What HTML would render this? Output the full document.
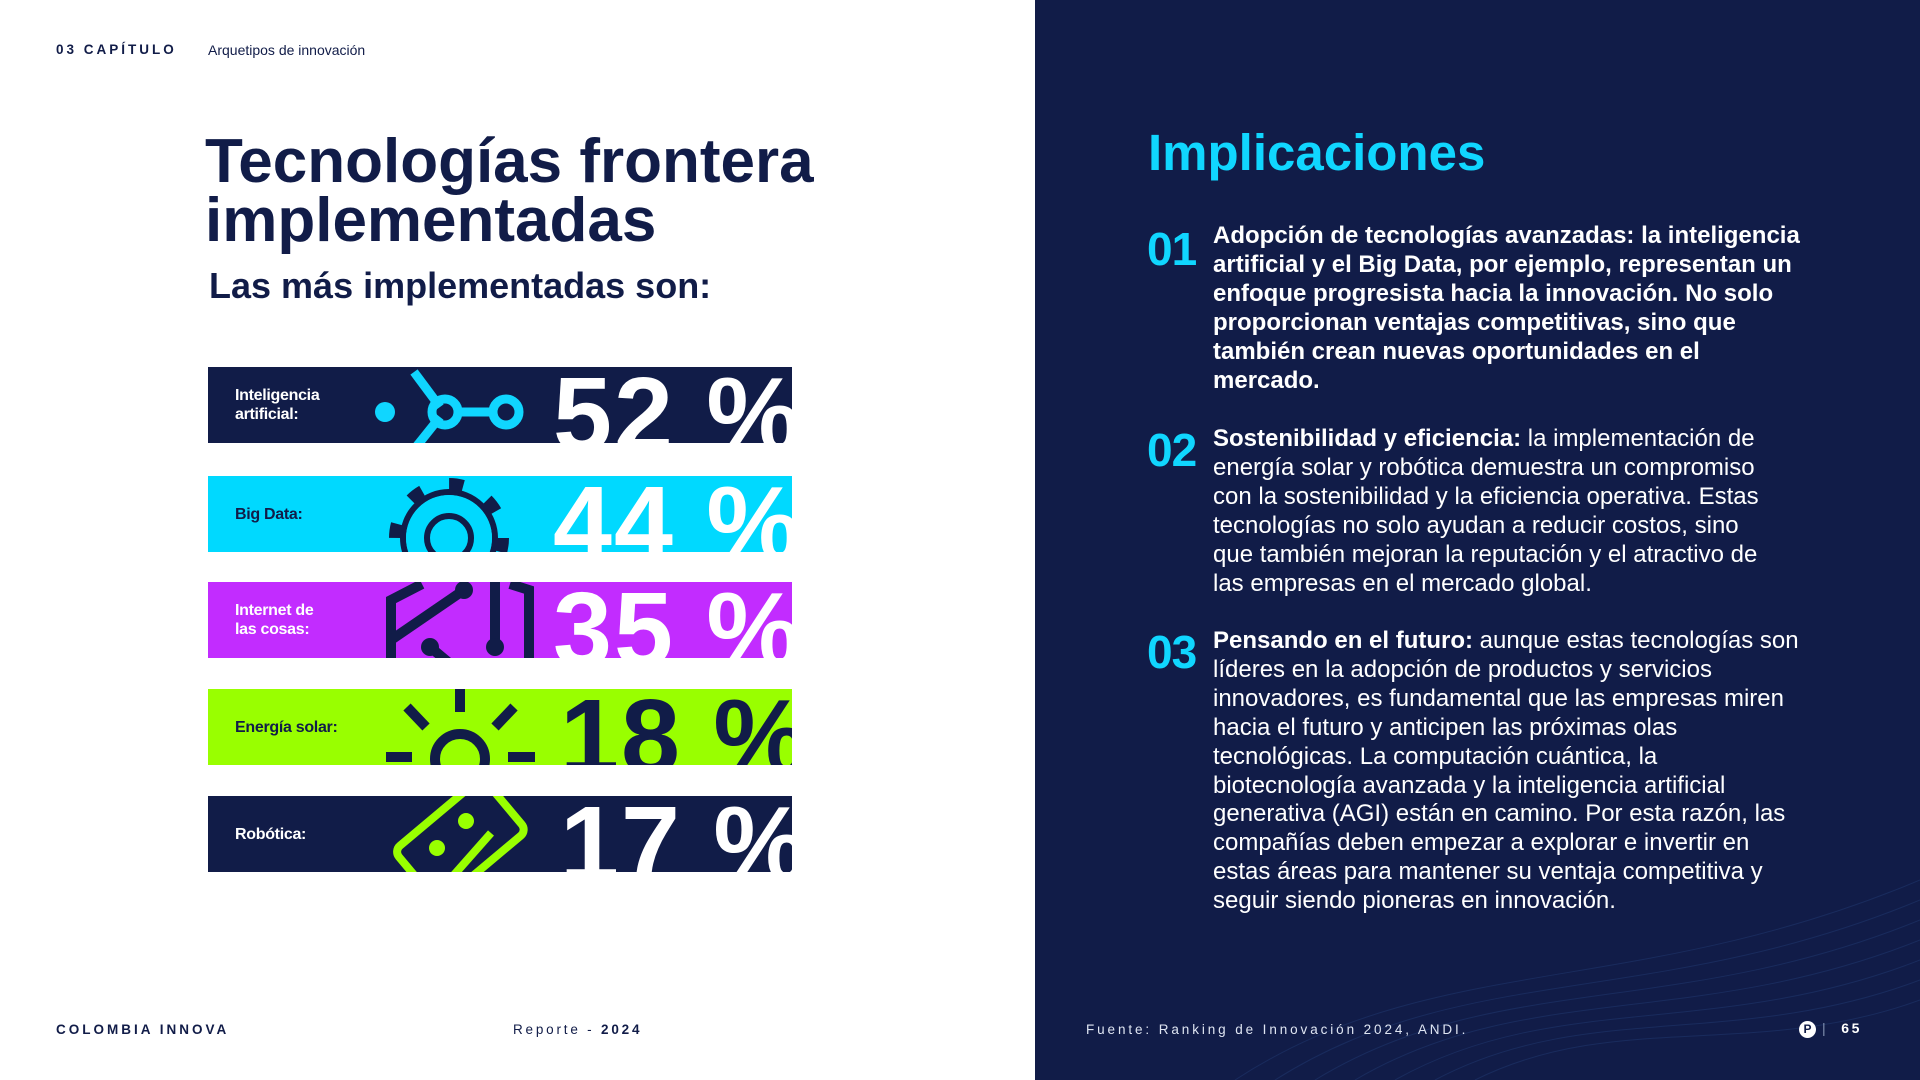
<!DOCTYPE html>
<html><head><meta charset="utf-8">
<style>
*{margin:0;padding:0;box-sizing:border-box}
body{width:1920px;height:1080px;position:relative;overflow:hidden;background:#fff;font-family:"Liberation Sans",sans-serif;color:#111c48}
.abs{position:absolute}
#right{position:absolute;left:1035px;top:0;width:885px;height:1080px;background:#111c48}
.row{position:absolute;left:208px;width:584px;height:76px;overflow:hidden}
.row .lab{position:absolute;left:27px;top:0;height:76px;display:flex;align-items:center;font-weight:bold;font-size:16px;line-height:19px;letter-spacing:-0.3px}
.row svg{position:absolute;left:0;top:0}
.row .num{position:absolute;top:-5px;font-weight:bold;font-size:106px;line-height:106px;white-space:pre;letter-spacing:2px}
.item{position:absolute;left:1147px;width:720px}
.item .n{position:absolute;left:0;font-weight:bold;font-size:46px;color:#10d6ff;letter-spacing:-1px}
.item .t{position:absolute;left:66px;font-size:24px;line-height:28.9px;color:#fff;white-space:nowrap}
</style></head><body>
<div class="abs" style="left:56px;top:42px;font-size:13.5px;font-weight:bold;letter-spacing:3px">03 CAPÍTULO</div>
<div class="abs" style="left:208px;top:42px;font-size:14px">Arquetipos de innovación</div>
<div class="abs" style="left:205px;top:132px;font-size:62px;line-height:59px;font-weight:bold;letter-spacing:0px">Tecnologías frontera<br>implementadas</div>
<div class="abs" style="left:209px;top:265px;font-size:36px;font-weight:bold">Las más implementadas son:</div>
<div id="rows"></div>
<div class="abs" style="left:56px;top:1022px;font-size:13.5px;font-weight:bold;letter-spacing:3px">COLOMBIA INNOVA</div>
<div class="abs" style="left:513px;top:1022px;font-size:13.5px;letter-spacing:2.8px">Reporte - <b>2024</b></div>
<div id="right">
<svg width="885" height="1080" style="position:absolute;left:0;top:0">
<g fill="none" stroke="#1d3266" stroke-width="1" opacity="0.7">
<path d="M200 1080 C400 950 600 1000 885 880"/><path d="M240 1080 C430 960 620 1010 885 900"/><path d="M280 1080 C460 970 640 1020 885 920"/><path d="M320 1080 C490 980 660 1030 885 940"/><path d="M360 1080 C520 990 680 1040 885 960"/><path d="M400 1080 C550 1000 700 1050 885 980"/><path d="M440 1080 C580 1010 720 1060 885 1000"/>
</g></svg>
</div>
<div class="abs" style="left:1148px;top:123px;font-size:51px;font-weight:bold;color:#10d6ff">Implicaciones</div>
<div class="item" style="top:222px">
<div class="n" style="top:0">01</div>
<div class="t" style="top:0;font-weight:bold">Adopción de tecnologías avanzadas: la inteligencia<br>artificial y el Big Data, por ejemplo, representan un<br>enfoque progresista hacia la innovación. No solo<br>proporcionan ventajas competitivas, sino que<br>también crean nuevas oportunidades en el<br>mercado.</div></div>
<div class="item" style="top:425px">
<div class="n" style="top:-2px">02</div>
<div class="t" style="top:0"><b>Sostenibilidad y eficiencia:</b> la implementación de<br>energía solar y robótica demuestra un compromiso<br>con la sostenibilidad y la eficiencia operativa. Estas<br>tecnologías no solo ayudan a reducir costos, sino<br>que también mejoran la reputación y el atractivo de<br>las empresas en el mercado global.</div></div>
<div class="item" style="top:627px">
<div class="n" style="top:-2px">03</div>
<div class="t" style="top:0"><b>Pensando en el futuro:</b> aunque estas tecnologías son<br>líderes en la adopción de productos y servicios<br>innovadores, es fundamental que las empresas miren<br>hacia el futuro y anticipen las próximas olas<br>tecnológicas. La computación cuántica, la<br>biotecnología avanzada y la inteligencia artificial<br>generativa (AGI) están en camino. Por esta razón, las<br>compañías deben empezar a explorar e invertir en<br>estas áreas para mantener su ventaja competitiva y<br>seguir siendo pioneras en innovación.</div></div>
<div class="abs" style="left:1086px;top:1022px;font-size:13.5px;color:#dfe5f2;letter-spacing:2.9px">Fuente: Ranking de Innovación 2024, ANDI.</div>
<div class="abs" style="left:1799px;top:1021px;width:17px;height:17px;border-radius:50%;background:#fff;color:#111c48;font-size:12px;font-weight:bold;text-align:center;line-height:17px">P</div>
<div class="abs" style="left:1822px;top:1020px;font-size:14px;color:#fff;font-weight:bold;letter-spacing:2.6px"><span style="font-weight:normal;color:#8090b0">|</span>&nbsp; 65</div>
<script>
const categories=["Inteligencia<br>artificial:","Big Data:","Internet de<br>las cosas:","Energía solar:","Robótica:"];
const values=[52,44,35,18,17];
const icons=[
'<g stroke="#10d6ff" stroke-width="9" fill="none"><line x1="206" y1="5" x2="232" y2="40"/><line x1="232" y1="50" x2="208" y2="80"/><line x1="249" y1="45" x2="285" y2="45"/><circle cx="237" cy="45" r="13"/><circle cx="298" cy="45" r="13"/></g><circle cx="177" cy="45" r="10" fill="#10d6ff"/>',
'<g stroke="#111c48" stroke-width="6" fill="none"><circle cx="241" cy="62" r="46"/><circle cx="241" cy="62" r="22"/></g><circle cx="241" cy="62" r="53" fill="none" stroke="#111c48" stroke-width="14" stroke-dasharray="14 27.6"/><circle cx="241" cy="62" r="43" fill="#00d9ff"/><circle cx="241" cy="62" r="22" fill="none" stroke="#111c48" stroke-width="6"/>',
'<g stroke="#111c48" stroke-width="10" fill="none"><polyline points="214,2 183,18 183,80"/><line x1="256" y1="8" x2="183" y2="58"/><line x1="222" y1="65" x2="240" y2="80"/><line x1="287" y1="0" x2="287" y2="65"/><polyline points="302,2 321,8 321,80"/></g><g fill="#111c48"><circle cx="256" cy="8" r="9"/><circle cx="222" cy="65" r="9"/><circle cx="287" cy="65" r="9"/></g>',
'<g stroke="#111c48" stroke-width="10" fill="none"><line x1="252" y1="0" x2="252" y2="23"/><line x1="199" y1="18" x2="218" y2="38"/><line x1="306" y1="18" x2="287" y2="38"/><line x1="178" y1="68" x2="204" y2="68"/><line x1="300" y1="68" x2="327" y2="68"/><circle cx="252" cy="70" r="25"/></g>',
'<g stroke="#99ff00" stroke-width="8" fill="none"><rect x="195" y="10" width="115" height="70" rx="8" transform="rotate(-40 252 45)"/><line x1="283" y1="37" x2="245" y2="80"/></g><g fill="#99ff00"><circle cx="258" cy="25" r="8"/><circle cx="229" cy="52" r="8"/></g>'];
const bgColors=["#111c48","#00d9ff","#c22cff","#99ff00","#111c48"];
const labColors=["#fff","#111c48","#fff","#111c48","#fff"];
const numColors=["#fff","#fff","#fff","#111c48","#fff"];
const tops=[367,476,582,689,796];
const root=document.getElementById('rows');
values.forEach((v,i)=>{
  const r=document.createElement('div');
  
  
  r.className='row';r.style.top=tops[i]+'px';r.style.background=bgColors[i];
  r.innerHTML='<svg width="584" height="76">'+icons[i]+'</svg>';
  const l=document.createElement('div');
  
  
  l.className='lab';l.style.color=labColors[i];l.innerHTML=categories[i];
  const n=document.createElement('div');
  
  
  n.className='num';n.style.color=numColors[i];n.style.left=(i>=3?352:345)+'px';
  n.textContent=v+' %';
  r.appendChild(l);r.appendChild(n);root.appendChild(r);
});
</script>
</body></html>
